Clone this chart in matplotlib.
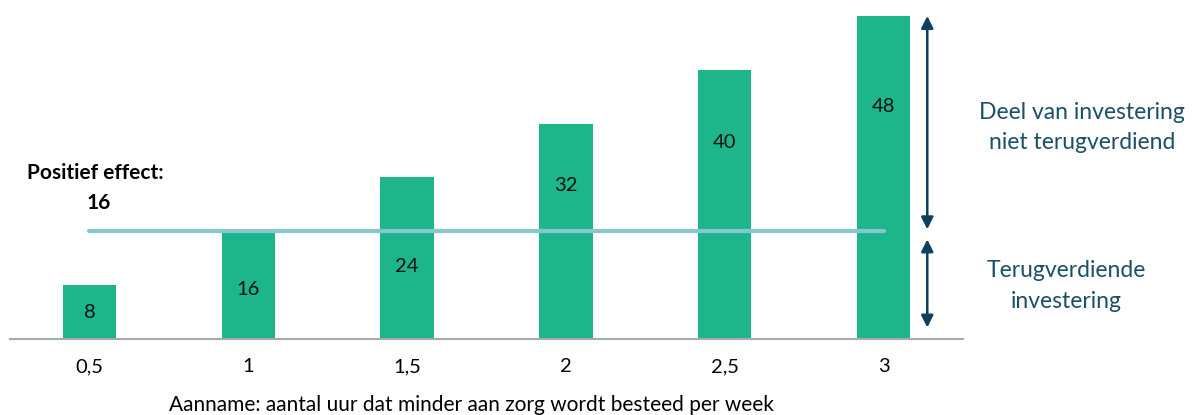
import numpy as np
import matplotlib
matplotlib.use('Agg')
import matplotlib.pyplot as plt

plt.rcParams['font.family'] = ['Lato', 'DejaVu Sans']

# data
hours = ['0,5', '1', '1,5', '2', '2,5', '3']
invest = [8, 16, 24, 32, 40, 48]
effect = 16
# label height as fraction of bar (as placed in the original)
label_frac = [0.49, 0.46, 0.45, 0.715, 0.73, 0.72]

BAR = '#1db68a'
LINE = '#86c6cd'
NAVY = '#0e3f5c'
TXT_R = '#1c4f66'

fig = plt.figure(figsize=(11.95, 4.15), dpi=100)
ax = fig.add_axes([10 / 1195, (415 - 339) / 415, 953 / 1195, 323 / 415])

x = np.arange(len(hours))
ax.bar(x, invest, width=0.335, color=BAR, zorder=2)
ax.plot([x[0], x[-1]], [effect, effect], color=LINE, lw=3, solid_capstyle='round', zorder=3)

for xi, v, f in zip(x, invest, label_frac):
    ax.text(xi, v * f, str(v), ha='center', va='center', fontsize=14.5, color='#111111', zorder=4)

ax.set_xlim(-0.5, len(hours) - 0.5)
ax.set_ylim(0, max(invest))
ax.set_xticks(x)
ax.set_xticklabels(hours, fontsize=14.5)
ax.tick_params(axis='x', length=0, pad=14)
ax.set_yticks([])
for s in ['top', 'right', 'left']:
    ax.spines[s].set_visible(False)
ax.spines['bottom'].set_color('#a6a9ad')
ax.spines['bottom'].set_linewidth(1.5)

ax.text(0.484, -0.205, 'Aanname: aantal uur dat minder aan zorg wordt besteed per week',
        transform=ax.transAxes, ha='center', va='center', fontsize=15)

# positive effect label
ax.text(-0.39, 24.7, 'Positief effect:', ha='left', va='center', fontsize=15, fontweight='bold')
ax.text(0.06, 20.2, str(effect), ha='center', va='center', fontsize=15, fontweight='bold')

# arrows on the right
ax_x = 5.275
arrow = dict(arrowstyle='<|-|>', color=NAVY, lw=1.8, mutation_scale=18, shrinkA=0, shrinkB=0)
ax.annotate('', xy=(ax_x, max(invest)), xytext=(ax_x, effect + 0.3),
            arrowprops=arrow, annotation_clip=False)
ax.annotate('', xy=(ax_x, effect - 1.2), xytext=(ax_x, 1.7),
            arrowprops=arrow, annotation_clip=False)

ax.text(6.25, 31.4, 'Deel van investering\nniet terugverdiend', ha='center', va='center',
        fontsize=16.5, color=TXT_R, linespacing=1.55, clip_on=False)
ax.text(6.15, 7.9, 'Terugverdiende\ninvestering', ha='center', va='center',
        fontsize=16.5, color=TXT_R, linespacing=1.55, clip_on=False)

fig.savefig('out.png', dpi=100)
